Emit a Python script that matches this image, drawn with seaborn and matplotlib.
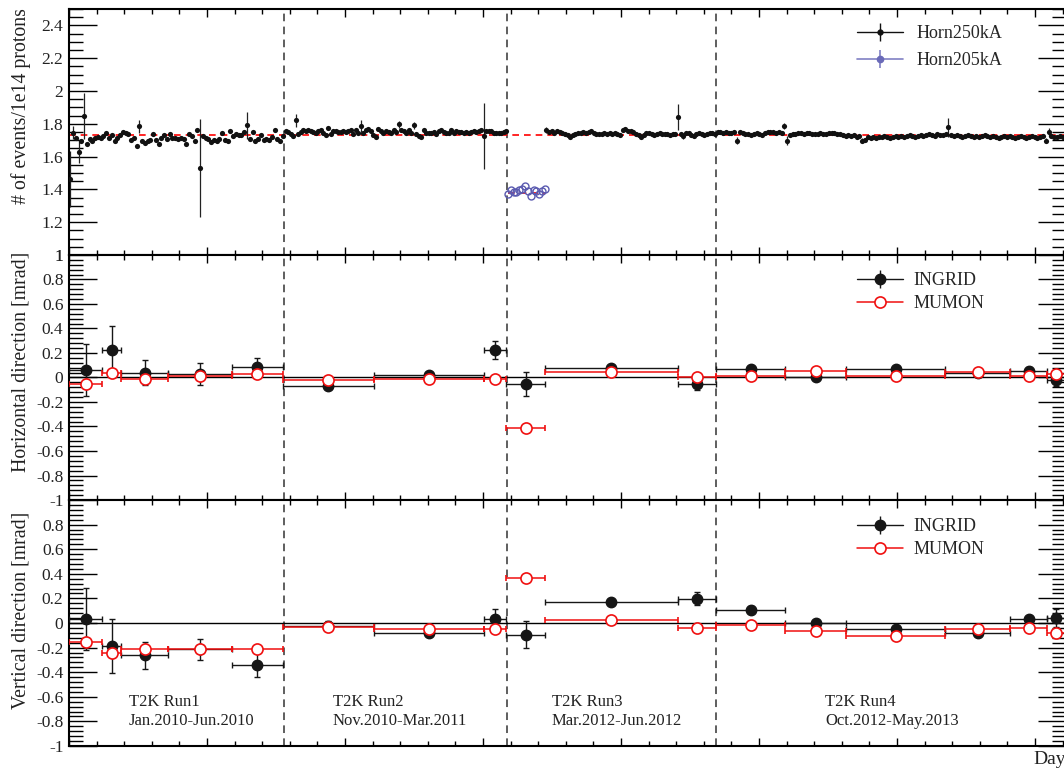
import numpy as np
import pandas as pd
import matplotlib
matplotlib.use("Agg")
import matplotlib.pyplot as plt
import seaborn as sns
from matplotlib.ticker import MultipleLocator, FuncFormatter

# ---- daily event rate (# of events / 1e14 protons), Horn 250 kA ----
run1_span = (1, 155)
run1_rate = [1.465, 1.745, 1.714, 1.629, 1.698, 1.847, 1.678, 1.708, 1.698, 1.714,
             1.720, 1.714, 1.725, 1.745, 1.714, 1.729, 1.694, 1.714, 1.729, 1.749,
             1.745, 1.735, 1.704, 1.714, 1.663, 1.786, 1.698, 1.684, 1.694, 1.704,
             1.739, 1.704, 1.678, 1.714, 1.729, 1.708, 1.735, 1.714, 1.714, 1.708,
             1.714, 1.708, 1.678, 1.735, 1.725, 1.694, 1.761, 1.531, 1.725, 1.714,
             1.708, 1.688, 1.704, 1.694, 1.708, 1.745, 1.704, 1.694, 1.755, 1.725,
             1.735, 1.729, 1.729, 1.749, 1.790, 1.708, 1.749, 1.694, 1.708, 1.729,
             1.700, 1.708, 1.704, 1.720, 1.765, 1.708, 1.698, 1.725]
run1_err = {0: 0.17, 1: 0.04, 3: 0.065, 5: 0.14, 25: 0.04, 47: 0.30, 64: 0.08}

run2_span = (157, 317)
run2_rate = [1.755, 1.749, 1.735, 1.725, 1.822, 1.735, 1.749, 1.765, 1.755, 1.761,
             1.755, 1.749, 1.745, 1.755, 1.761, 1.745, 1.733, 1.776, 1.735, 1.755,
             1.755, 1.751, 1.751, 1.755, 1.751, 1.755, 1.761, 1.735, 1.765, 1.745,
             1.786, 1.745, 1.761, 1.769, 1.755, 1.729, 1.720, 1.769, 1.755, 1.745,
             1.755, 1.749, 1.745, 1.765, 1.749, 1.796, 1.765, 1.755, 1.745, 1.761,
             1.745, 1.790, 1.735, 1.725, 1.720, 1.761, 1.745, 1.745, 1.741, 1.749,
             1.739, 1.755, 1.761, 1.749, 1.741, 1.745, 1.765, 1.745, 1.755, 1.751,
             1.749, 1.745, 1.751, 1.745, 1.751, 1.755, 1.751, 1.755, 1.765, 1.725,
             1.755, 1.755, 1.755, 1.741, 1.741, 1.741, 1.745, 1.749, 1.755]
run2_err = {4: 0.04, 30: 0.035, 36: 0.015, 45: 0.02, 51: 0.02, 79: 0.20}

run3_span = (346, 468)
run3_rate = [1.761, 1.749, 1.755, 1.745, 1.755, 1.749, 1.741, 1.735, 1.729, 1.720,
             1.729, 1.735, 1.741, 1.745, 1.749, 1.745, 1.749, 1.755, 1.745, 1.739,
             1.735, 1.739, 1.741, 1.739, 1.741, 1.735, 1.741, 1.735, 1.729, 1.765,
             1.769, 1.759, 1.755, 1.749, 1.735, 1.729, 1.720, 1.729, 1.741, 1.745,
             1.735, 1.729, 1.739, 1.745, 1.739, 1.735, 1.739, 1.729, 1.735, 1.739,
             1.843, 1.735, 1.725, 1.745, 1.741, 1.729, 1.725, 1.735, 1.745, 1.739,
             1.729, 1.735, 1.741, 1.745, 1.739]
run3_err = {0: 0.02, 50: 0.08, 52: 0.02}

run4_span = (470, 722)
run4_rate = [1.751, 1.749, 1.745, 1.749, 1.745, 1.741, 1.749, 1.698,
             1.749, 1.741, 1.735, 1.739, 1.729, 1.735, 1.741, 1.739, 1.729, 1.745,
             1.749, 1.751, 1.749, 1.745, 1.749, 1.745, 1.786, 1.698,
             1.729, 1.735, 1.739, 1.741, 1.745, 1.739, 1.741, 1.745, 1.739, 1.735,
             1.739, 1.741, 1.739, 1.735, 1.741, 1.745, 1.741, 1.739, 1.735, 1.729,
             1.725, 1.729, 1.725, 1.729, 1.720, 1.725, 1.698, 1.704,
             1.720, 1.714, 1.720, 1.714, 1.720, 1.720, 1.725, 1.720, 1.714, 1.720,
             1.725, 1.720, 1.725, 1.720, 1.725, 1.729, 1.725, 1.720, 1.725, 1.729,
             1.725, 1.729, 1.735, 1.729, 1.725, 1.735, 1.729, 1.729, 1.735, 1.778,
             1.729, 1.725, 1.729, 1.725, 1.720, 1.725, 1.729, 1.725, 1.720, 1.725,
             1.720, 1.725, 1.729, 1.725, 1.720, 1.725, 1.720, 1.714, 1.720, 1.725,
             1.720, 1.725, 1.720, 1.714, 1.720, 1.725, 1.720, 1.714, 1.720, 1.725,
             1.720, 1.714, 1.720, 1.725, 1.698, 1.749,
             1.725, 1.720, 1.720, 1.725, 1.720, 1.720]
run4_err = {7: 0.02, 24: 0.02, 25: 0.03, 52: 0.015, 83: 0.06, 118: 0.015, 119: 0.025}

# Horn 205 kA period at the start of Run3
h205_span = (318, 345)
h205_rate = [1.371, 1.398, 1.382, 1.382, 1.394, 1.402, 1.422, 1.388, 1.357, 1.398,
             1.388, 1.373, 1.392, 1.404]

rate_err = 0.012
mean250 = 1.733
mean205 = 1.381

# ---- beam direction per period (mrad) ----
bin_edges = [0, 24, 38, 72, 118, 155, 221, 301, 317, 345, 441, 469, 519, 563, 635, 682, 709, 722]
ingrid_h = [0.061, 0.224, 0.040, 0.029, 0.083, -0.069, 0.020, 0.224, -0.053,
            0.075, -0.053, 0.067, 0.007, 0.067, 0.034, 0.056, -0.020]
ingrid_h_err = [0.21, 0.20, 0.10, 0.09, 0.08, 0.02, 0.02, 0.07, 0.10,
                0.02, 0.05, 0.02, 0.02, 0.02, 0.02, 0.03, 0.05]
mumon_h = [-0.053, 0.040, -0.015, 0.015, 0.026, -0.020, -0.015, -0.015, -0.410,
           0.048, 0.007, 0.012, 0.056, 0.015, 0.042, 0.015, 0.028]
ingrid_v = [0.033, -0.185, -0.263, -0.212, -0.339, -0.022, -0.081, 0.033, -0.095,
            0.171, 0.198, 0.108, 0.000, -0.046, -0.081, 0.033, 0.041]
ingrid_v_err = [0.25, 0.22, 0.11, 0.085, 0.10, 0.04, 0.02, 0.08, 0.11,
                0.02, 0.05, 0.03, 0.02, 0.02, 0.02, 0.02, 0.07]
mumon_v = [-0.157, -0.244, -0.212, -0.212, -0.212, -0.033, -0.049, -0.049, 0.363,
           0.022, -0.041, -0.019, -0.068, -0.103, -0.049, -0.041, -0.081]

run_bounds = [155.5, 317.5, 469]
run_names = ["T2K Run1", "T2K Run2", "T2K Run3", "T2K Run4"]
run_periods = ["Jan.2010-Jun.2010", "Nov.2010-Mar.2011", "Mar.2012-Jun.2012", "Oct.2012-May.2013"]
run_label_day = [43.5, 191.3, 350, 547.8]

XMAX = 722.5

sns.set_theme(style="ticks")
plt.rcParams["font.family"] = ["Liberation Serif", "DejaVu Serif"]
plt.rcParams["axes.linewidth"] = 1.5
plt.rcParams["axes.edgecolor"] = "black"

fig = plt.figure(figsize=(10.64, 7.74), dpi=100)
left, width = 69 / 1064, 997 / 1064
ax1 = fig.add_axes([left, 1 - 255 / 774, width, 246 / 774])
ax2 = fig.add_axes([left, 1 - 500 / 774, width, 245 / 774])
ax3 = fig.add_axes([left, 1 - 746 / 774, width, 246 / 774])


def rate_frame(span, rate, big):
    day = np.linspace(span[0], span[1], len(rate))
    err = np.full(len(rate), rate_err)
    for i, e in big.items():
        err[i] = e
    return pd.DataFrame({"day": day, "rate": rate, "err": err})


def fmt(v, pos, hide_top=False):
    v = round(v, 6) + 0
    if hide_top and v > 0.999:
        return ""
    return f"{v:g}"


for ax in (ax1, ax2, ax3):
    ax.set_xlim(0, XMAX)
    ax.xaxis.set_major_locator(MultipleLocator(100))
    ax.xaxis.set_minor_locator(MultipleLocator(20))
    ax.tick_params(axis="both", which="both", direction="in", top=True, right=True,
                   labelbottom=False, colors="black", labelcolor="#222")
    ax.tick_params(axis="x", which="major", length=6, width=1)
    ax.tick_params(axis="x", which="minor", length=3.5, width=1)
    ax.tick_params(axis="y", which="major", length=20, width=1, labelsize=12.5, pad=4)
    ax.tick_params(axis="y", which="minor", length=10, width=1)
    for d in run_bounds:
        ax.axvline(d, color="#333", ls=(0, (5, 3.5)), lw=1.1, zorder=1)

# ---- panel 1: event rate ----
ax1.set_ylim(1, 2.5)
ax1.yaxis.set_major_locator(MultipleLocator(0.2))
ax1.yaxis.set_minor_locator(MultipleLocator(0.05))
ax1.yaxis.set_major_formatter(FuncFormatter(fmt))
ax1.axhline(mean250, color="red", ls=(0, (4, 3)), lw=1.2, zorder=1)
ax1.hlines(mean205, h205_span[0], h205_span[1], color="red", ls=(0, (4, 3)), lw=1.2, zorder=1)

for span, rate, big in [(run1_span, run1_rate, run1_err), (run2_span, run2_rate, run2_err),
                        (run3_span, run3_rate, run3_err), (run4_span, run4_rate, run4_err)]:
    d = rate_frame(span, rate, big)
    ax1.errorbar(d["day"], d["rate"], yerr=d["err"], fmt="none", ecolor="#222",
                 elinewidth=0.9, zorder=2)
    sns.scatterplot(data=d, x="day", y="rate", ax=ax1, color="#111", s=14,
                    linewidth=0, zorder=3, legend=False)

d205 = rate_frame(h205_span, h205_rate, {})
ax1.plot(d205["day"], d205["rate"], "o", ms=5, mfc="none", mec="#5a5ab0", mew=1.0, zorder=3)
ax1.set_xlabel("")
ax1.set_ylabel("")

h250 = ax1.errorbar([np.nan], [np.nan], yerr=[1], fmt="-o", color="#111", ms=3.5,
                    lw=1, elinewidth=1, capsize=0)
h205 = ax1.errorbar([np.nan], [np.nan], yerr=[1], fmt="-o", color="#8080c4", mfc="#6a6ab8",
                    mec="#6a6ab8", ms=4.5, lw=1.2, elinewidth=1.2, capsize=0)
ax1.legend([h250, h205], ["Horn250kA", "Horn205kA"], loc="upper left",
           bbox_to_anchor=(0.790, 0.933), frameon=False, fontsize=13, handlelength=2.55,
           handletextpad=0.75, labelspacing=0.52, borderpad=0, borderaxespad=0, numpoints=1)

# ---- panels 2 and 3: beam direction ----
edges = np.array(bin_edges, dtype=float)
centers = (edges[:-1] + edges[1:]) / 2
half = np.diff(edges) / 2

for ax, ing, ing_err, mum, hide, top in [(ax2, ingrid_h, ingrid_h_err, mumon_h, False, 0.929),
                                         (ax3, ingrid_v, ingrid_v_err, mumon_v, True, 0.925)]:
    ax.set_ylim(-1, 1)
    ax.yaxis.set_major_locator(MultipleLocator(0.2))
    ax.yaxis.set_minor_locator(MultipleLocator(0.04))
    ax.yaxis.set_major_formatter(FuncFormatter(lambda v, p, h=hide: fmt(v, p, h)))
    ax.axhline(0, color="black", lw=1, zorder=1)
    ax.errorbar(centers, ing, xerr=half, yerr=ing_err, fmt="o", color="#161616", ms=7.5,
                elinewidth=1, capsize=2.2, capthick=1, zorder=3)
    ax.errorbar(centers, mum, xerr=half, fmt="o", mfc="white", mec="#f01010", ms=8, mew=1.2,
                ecolor="#f01010", elinewidth=1.1, capsize=2.2, capthick=1, zorder=4)
    hi = ax.errorbar([np.nan], [np.nan], yerr=[1], fmt="-o", color="#161616", ms=7.5,
                     lw=1, elinewidth=1, capsize=0)
    hm, = ax.plot([np.nan], [np.nan], "-o", color="#f01010", mfc="white", mec="#f01010",
                  ms=8, mew=1.2, lw=1.1)
    ax.legend([hi, hm], ["INGRID", "MUMON"], loc="upper left",
              bbox_to_anchor=(0.790, top), frameon=False, fontsize=13, handlelength=2.55,
              handletextpad=0.6, labelspacing=0.31, borderpad=0, borderaxespad=0, numpoints=1)

for day, name, period in zip(run_label_day, run_names, run_periods):
    ax3.text(day, -0.64, name, ha="left", va="center", fontsize=12, color="#222")
    ax3.text(day, -0.80, period, ha="left", va="center", fontsize=12, color="#222")

ax3.text(1.0, -0.02, "Day", transform=ax3.transAxes, ha="right", va="top", fontsize=14,
         color="#222")

# y titles, aligned to the top end of each axis
fig.text(21 / 1064, 1 - 8 / 774, "# of events/1e14 protons", rotation=90, ha="center",
         va="top", fontsize=14.3, color="#222")
fig.text(21 / 1064, 1 - 252 / 774, "Horizontal direction [mrad]", rotation=90, ha="center",
         va="top", fontsize=14.3, color="#222")
fig.text(21 / 1064, 1 - 512 / 774, "Vertical direction [mrad]", rotation=90, ha="center",
         va="top", fontsize=14.3, color="#222")

fig.savefig("out.png", dpi=100)
